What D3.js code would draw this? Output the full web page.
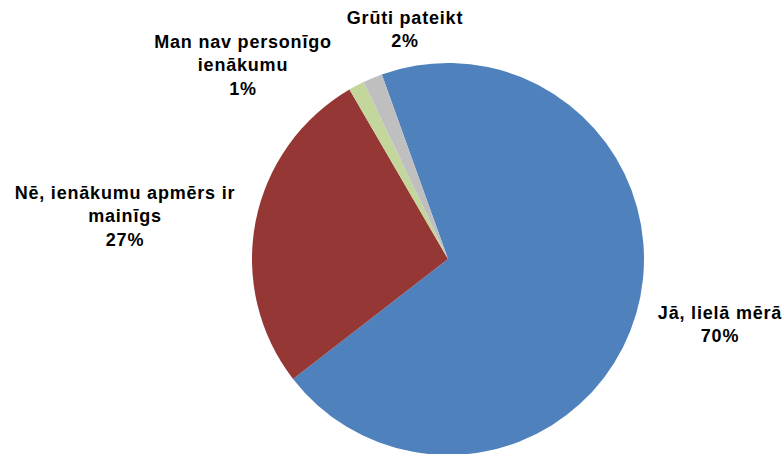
<!DOCTYPE html>
<html>
<head>
<meta charset="utf-8">
<script src="https://cdn.jsdelivr.net/npm/d3@7"></script>
<style>
  html, body { margin: 0; padding: 0; background: #fff; }
  svg { display: block; }
  text { font-family: "Liberation Sans", Arial, sans-serif; font-weight: bold; fill: #000; }
</style>
</head>
<body>
<svg id="chart" width="783" height="454"></svg>
<script>
// ---- data ----
const categories = ["Jā, lielā mērā", "Nē, ienākumu apmērs ir mainīgs", "Man nav personīgo ienākumu", "Grūti pateikt"];
const values = [70.0, 27.1, 1.3, 1.6];
const colors = ["#4F81BD", "#953735", "#C3D69B", "#BFBFBF"];
// label line breaks (as in the original)
const labelLines = [
  ["Jā, lielā mērā"],
  ["Nē, ienākumu apmērs ir", "mainīgs"],
  ["Man nav personīgo", "ienākumu"],
  ["Grūti pateikt"]
];

// ---- layout ----
const W = 783, H = 454;
const cx = 448, cy = 259, R = 196;
const startDeg = -19.75;
// label block centres (top line y) relative to the SVG
const labelPos = [
  {x: 720, y: 313},
  {x: 125, y: 193},
  {x: 243, y: 42},
  {x: 405, y: 18}
];
const lineH = 23.4;

const svg = d3.select("#chart");
const total = d3.sum(values);
const data = categories.map((c, i) => ({cat: c, value: values[i], i}));

const start = startDeg * Math.PI / 180;
const pie = d3.pie().sort(null).value(d => d.value)
  .startAngle(start).endAngle(start + 2 * Math.PI);
const arc = d3.arc().innerRadius(0).outerRadius(R);

const g = svg.append("g").attr("transform", `translate(${cx},${cy})`);
g.selectAll("path").data(pie(data)).join("path")
  .attr("d", arc)
  .attr("fill", d => colors[d.data.i]);

const fmt = v => Math.round(v / total * 100) + "%";
data.forEach((d, i) => {
  const lines = labelLines[i].concat([fmt(d.value)]);
  const t = svg.append("text")
    .attr("text-anchor", "middle")
    .style("font-size", "18px")
    .style("letter-spacing", "0.8px");
  lines.forEach((ln, k) => {
    t.append("tspan")
      .attr("x", labelPos[i].x)
      .attr("y", labelPos[i].y + k * lineH)
      .attr("dominant-baseline", "central")
      .text(ln);
  });
});
</script>
</body>
</html>
